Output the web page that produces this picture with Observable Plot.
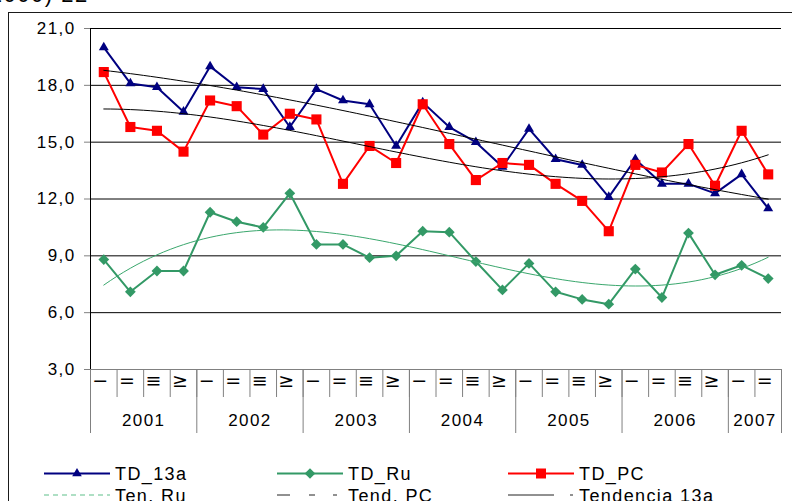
<!DOCTYPE html>
<html>
<head>
<meta charset="utf-8">
<script src="https://cdn.jsdelivr.net/npm/d3@7"></script>
<script src="https://cdn.jsdelivr.net/npm/@observablehq/plot@0.6"></script>
<style>
  body { margin: 0; background: #fff; }
  #wrap { position: relative; width: 792px; height: 501px; overflow: hidden;
          font-family: "Liberation Sans", Arial, sans-serif; color: #000; }
  #frame { position: absolute; left: 8px; top: 12px; width: 900px; height: 600px;
           border: 1.5px solid #1a1a1a; }
  #chart { position: absolute; left: 0; top: 0; }
  #chart text { letter-spacing: 1.4px; }
  #chart g[font-family="DejaVu Sans"] text { letter-spacing: 0; }
  #legend { position: absolute; left: 0; top: 455px; }
  #legend text { letter-spacing: 1.4px; font-size: 18px; font-family: "Liberation Sans", Arial, sans-serif; }
  #cut { position: absolute; left: -19px; top: -18px; font-size: 22px; letter-spacing: 1.5px; white-space: nowrap; }
</style>
</head>
<body>
<div id="wrap">
  <div id="cut">(2000) 22</div>
  <div id="frame"></div>
  <div id="chart"></div>
  <svg id="legend" width="792" height="46"></svg>
</div>
<script>
// Quarter labels (I–IV) and years, 2001 Q1 – 2007 Q2
const quarterLabels = ["−", "=", "≡", "≥"];
const years = ["2001", "2002", "2003", "2004", "2005", "2006", "2007"];

// Quarterly rates
const td13a = [20.0, 18.1, 17.9, 16.6, 19.0, 17.9, 17.8, 15.8,
               17.8, 17.2, 17.0, 14.8, 17.1, 15.8, 15.0, 13.7,
               15.7, 14.1, 13.8, 12.1, 14.1, 12.8, 12.8, 12.3,
               13.3, 11.5];
const tdRu  = [8.8, 7.1, 8.2, 8.2, 11.3, 10.8, 10.5, 12.3,
               9.6, 9.6, 8.9, 9.0, 10.3, 10.25, 8.7, 7.2,
               8.6, 7.1, 6.7, 6.45, 8.3, 6.8, 10.2, 8.0,
               8.5, 7.8];
const tdPC  = [18.7, 15.8, 15.6, 14.5, 17.2, 16.9, 15.4, 16.5,
               16.2, 12.8, 14.8, 13.9, 17.0, 14.9, 13.0, 13.9,
               13.8, 12.8, 11.9, 10.3, 13.8, 13.4, 14.9, 12.7,
               15.6, 13.3];

const yTicks = [3, 6, 9, 12, 15, 18, 21];
const gridTicks = [6, 9, 12, 15, 18, 21];

const n = td13a.length;

// Least-squares polynomial fit (normal equations + Gaussian elimination)
function polyfit(ys, deg) {
  const m = deg + 1;
  const A = Array.from({length: m}, () => new Array(m + 1).fill(0));
  ys.forEach((y, i) => {
    const t = i + 1;
    for (let r = 0; r < m; r++) {
      for (let c = 0; c < m; c++) A[r][c] += Math.pow(t, r + c);
      A[r][m] += y * Math.pow(t, r);
    }
  });
  for (let p = 0; p < m; p++) {
    let best = p;
    for (let r = p + 1; r < m; r++) if (Math.abs(A[r][p]) > Math.abs(A[best][p])) best = r;
    [A[p], A[best]] = [A[best], A[p]];
    for (let r = 0; r < m; r++) {
      if (r === p) continue;
      const f = A[r][p] / A[p][p];
      for (let c = p; c <= m; c++) A[r][c] -= f * A[p][c];
    }
  }
  return A.map((row, i) => row[m] / row[i]);
}
function trend(ys, deg) {
  const coef = polyfit(ys, deg);
  return d3.range(0, n - 1 + 1e-9, 0.25).map(s => {
    const t = s + 1;
    return {x: s + 0.5, v: coef.reduce((acc, c, k) => acc + c * Math.pow(t, k), 0)};
  });
}

const series = vals => vals.map((v, i) => ({x: i + 0.5, v}));
const periods = d3.range(n).map(i => ({x: i + 0.5, q: quarterLabels[i % 4]}));
const yearRows = years.map((year, k) => {
  const start = 4 * k, end = Math.min(4 * k + 4, n);
  return {x: (start + end) / 2, year};
});
const yearBounds = [...years.map((_, k) => 4 * k), n];

// Diamond drawn as a square rotated 45°
const diamond = {
  draw(context, size) {
    const h = Math.sqrt(size / 2);
    context.moveTo(0, -h); context.lineTo(h, 0); context.lineTo(0, h); context.lineTo(-h, 0); context.closePath();
  }
};

const NAVY = "#000080", GREEN = "#339966", RED = "#ff0000";

const chart = Plot.plot({
  width: 792, height: 445,
  marginLeft: 90, marginRight: 11, marginTop: 28, marginBottom: 76,
  x: {domain: [0, n]},
  y: {domain: [3, 21]},
  style: {fontFamily: "Liberation Sans, Arial, sans-serif", fontSize: "17px", color: "#000", background: "transparent", overflow: "visible"},
  marks: [
    Plot.gridY(gridTicks, {stroke: "#000", strokeOpacity: 1}),
    Plot.ruleY([3], {stroke: "#808080"}),
    Plot.axisY(yTicks, {tickSize: 6, tickPadding: 9, stroke: "#808080", fontSize: 17, label: null,
                        tickFormat: d => d.toFixed(1).replace(".", ",")}),
    Plot.axisX(d3.range(0, n + 1), {tickSize: 28, tickFormat: () => "", stroke: "#808080", label: null}),
    Plot.axisX(yearBounds, {tickSize: 64, tickFormat: () => "", stroke: "#808080", label: null}),
    Plot.ruleX([0], {stroke: "#000"}),
    Plot.text(periods, {x: "x", text: "q", frameAnchor: "bottom", dy: 17, dx: -3.5, fontFamily: "DejaVu Sans", fontSize: 19}),
    Plot.text(yearRows, {x: "x", text: "year", frameAnchor: "bottom", dy: 56, fontSize: 17}),

    Plot.line(series(tdRu), {x: "x", y: "v", stroke: GREEN, strokeWidth: 2}),
    Plot.dot(series(tdRu), {x: "x", y: "v", symbol: diamond, r: 4.3, fill: GREEN}),
    Plot.line(series(td13a), {x: "x", y: "v", stroke: NAVY, strokeWidth: 2}),
    Plot.dot(series(td13a), {x: "x", y: "v", symbol: "triangle", r: 3.7, fill: NAVY}),
    Plot.line(series(tdPC), {x: "x", y: "v", stroke: RED, strokeWidth: 2}),
    Plot.dot(series(tdPC), {x: "x", y: "v", symbol: "square", r: 5.7, fill: RED}),

    // polynomial trend lines
    Plot.line(trend(tdRu, 3), {x: "x", y: "v", stroke: "#3aa76d", strokeWidth: 1, curve: "natural"}),
    Plot.line(trend(tdPC, 3), {x: "x", y: "v", stroke: "#000", strokeWidth: 1, curve: "natural"}),
    Plot.line(trend(td13a, 3), {x: "x", y: "v", stroke: "#000", strokeWidth: 1, curve: "natural"})
  ]
});
document.getElementById("chart").appendChild(chart);

// Legend
const lg = d3.select("#legend");
const items = [
  {x: 44, row: 0, label: "TD_13a", stroke: NAVY, width: 2, sym: d3.symbolTriangle, size: 40},
  {x: 277, row: 0, label: "TD_Ru", stroke: GREEN, width: 2, sym: diamond, size: 56},
  {x: 508, row: 0, label: "TD_PC", stroke: RED, width: 2, sym: d3.symbolSquare, size: 100},
  {x: 44, row: 1, label: "Ten. Ru", stroke: "#5fbf8a", width: 1.2, dash: "5,4"},
  {x: 277, row: 1, label: "Tend. PC", stroke: "#222", width: 1, dash: "13,19,6,18,4,20"},
  {x: 508, row: 1, label: "Tendencia 13a", stroke: "#222", width: 1, dash: "46,16,3,20"}
];
items.forEach(it => {
  const cy = it.row === 0 ? 18.5 : 40;
  lg.append("line").attr("x1", it.x).attr("x2", it.x + 66).attr("y1", cy).attr("y2", cy)
    .attr("stroke", it.stroke).attr("stroke-width", it.width)
    .attr("stroke-dasharray", it.dash || null);
  if (it.sym) {
    lg.append("path").attr("d", d3.symbol(it.sym, it.size)())
      .attr("transform", `translate(${it.x + 33},${cy})`).attr("fill", it.stroke);
  }
  lg.append("text").attr("x", it.x + 71).attr("y", it.row === 0 ? 25 : 47).attr("fill", "#000").text(it.label);
});
</script>
</body>
</html>
